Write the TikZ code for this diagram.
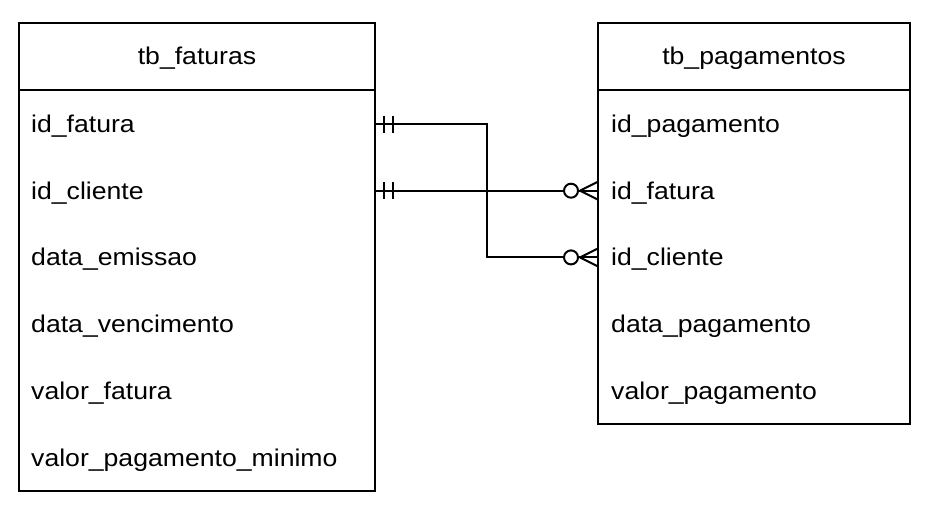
\documentclass[tikz,border=0pt]{standalone}
\usepackage{fontspec}
\setmainfont[FakeStretch=1.1]{Liberation Sans}
\begin{document}
\begin{tikzpicture}[x=1pt,y=-1pt,
  tbl/.style={draw=black,line width=2pt},
  fld/.style={anchor=base west,inner sep=0pt,font=\fontsize{24.2}{29}\selectfont},
  hdr/.style={anchor=base,inner sep=0pt,font=\fontsize{24.2}{29}\selectfont},
  conn/.style={line width=2pt},
  ermark/.style={line width=2pt}]
\useasboundingbox[fill=white] (0,0) rectangle (931,515);
% left table
\draw[tbl] (19,23) rectangle (375,491);
\draw[tbl] (19,90) -- (375,90);
\node[hdr] (lh) at (197,64.5) {tb\_faturas};
\node[fld] (l1) at (31,132.5) {id\_fatura};
\node[fld] (l2) at (31,199.2) {id\_cliente};
\node[fld] (l3) at (31,265.9) {data\_emissao};
\node[fld] (l4) at (31,332.6) {data\_vencimento};
\node[fld] (l5) at (31,399.3) {valor\_fatura};
\node[fld] (l6) at (31,466) {valor\_pagamento\_minimo};
% right table
\draw[tbl] (598,23) rectangle (910,424);
\draw[tbl] (598,90) -- (910,90);
\node[hdr] (rh) at (754,64.5) {tb\_pagamentos};
\node[fld] (r1) at (611,132.5) {id\_pagamento};
\node[fld] (r2) at (611,199.2) {id\_fatura};
\node[fld] (r3) at (611,265.9) {id\_cliente};
\node[fld] (r4) at (611,332.6) {data\_pagamento};
\node[fld] (r5) at (611,399.3) {valor\_pagamento};
% attachment points
\coordinate (a1) at (375,124);
\coordinate (a2) at (375,190.7);
\coordinate (b2) at (598,190.7);
\coordinate (b3) at (598,257.4);
\coordinate (k1) at (487,124);
\coordinate (k2) at (487,257.4);
% connectors
\draw[conn] (a1) -- (k1) -- (k2) -- (b3);
\draw[conn] (a2) -- (b2);
% one-and-only-one marks
\foreach \p in {a1,a2}{
  \draw[ermark] ([xshift=9]\p) ++(0,-8.5) -- ++(0,17);
  \draw[ermark] ([xshift=18]\p) ++(0,-8.5) -- ++(0,17);
}
% zero-or-many marks
\foreach \p in {b2,b3}{
  \draw[ermark] ([xshift=-18]\p) -- ([yshift=-9]\p);
  \draw[ermark] ([xshift=-18]\p) -- ([yshift=9]\p);
  \draw[ermark,fill=white] ([xshift=-27]\p) circle (7);
}
\end{tikzpicture}
\end{document}
